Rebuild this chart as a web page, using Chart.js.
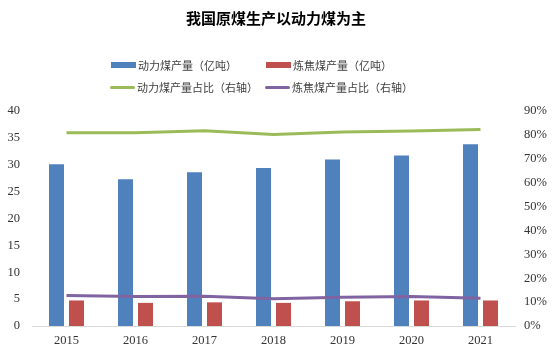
<!DOCTYPE html>
<html>
<head>
<meta charset="utf-8">
<script src="https://cdn.jsdelivr.net/npm/chart.js@4/dist/chart.umd.min.js"></script>
<style>
  html, body { margin:0; padding:0; background:#fff; }
  #wrap { position:relative; width:552px; height:352px; overflow:hidden; }
  #c { position:absolute; left:0; top:0; }
  .title { position:absolute; left:0; width:552px; top:8px; text-align:center;
    font-family:"Noto Sans CJK SC", sans-serif; font-weight:700; font-size:15px; color:#000; line-height:20px; }
  .lg { position:absolute; font-family:"Noto Sans CJK SC", sans-serif; font-size:11px; color:#404040;
    line-height:14px; white-space:nowrap; display:flex; align-items:center; }
  .lg i { display:inline-block; width:25px; margin-right:2px; }
</style>
</head>
<body>
<div id="wrap">
  <canvas id="c" width="552" height="352"></canvas>
  <div class="title">我国原煤生产以动力煤为主</div>
  <div id="legend"></div>
</div>
<script>
const years = ['2015','2016','2017','2018','2019','2020','2021'];
const thermalOutput = [30.1, 27.3, 28.6, 29.4, 31.0, 31.7, 33.8];   // 亿吨
const cokingOutput  = [4.75, 4.3, 4.4, 4.3, 4.6, 4.75, 4.75];       // 亿吨
const thermalShare  = [80.9, 80.9, 81.7, 80.2, 81.2, 81.6, 82.3];   // %
const cokingShare   = [12.8, 12.4, 12.5, 11.4, 12.0, 12.4, 11.6];   // %
const names = ['动力煤产量（亿吨）','炼焦煤产量（亿吨）','动力煤产量占比（右轴）','炼焦煤产量占比（右轴）'];
const colors = ['#4f81bd','#c0504d','#9bbb59','#8064a2'];

// legend, two rows like the original
const lgPos = [[111,58,'box'],[266,58,'box'],[110,80,'line'],[265,80,'line']];
document.getElementById('legend').innerHTML = names.map((n,i)=>{
  const [x,y,kind] = lgPos[i];
  const sw = kind==='box' ? `height:6px;background:${colors[i]}` : `height:3px;background:${colors[i]};border-radius:2px`;
  return `<div class="lg" style="left:${x}px;top:${y}px"><i style="${sw}"></i>${n}</div>`;
}).join('');

const tickFont = { family:'"Liberation Serif", serif', size:12.5 };
const tickColor = '#333';

new Chart(document.getElementById('c'), {
  data: {
    labels: years,
    datasets: [
      { type:'bar', label:names[0], data:thermalOutput, backgroundColor:colors[0], yAxisID:'y', order:2,
        categoryPercentage:0.58, barPercentage:0.75 },
      { type:'bar', label:names[1], data:cokingOutput, backgroundColor:colors[1], yAxisID:'y', order:2,
        categoryPercentage:0.58, barPercentage:0.75 },
      { type:'line', label:names[2], data:thermalShare, borderColor:colors[2], borderWidth:3, pointRadius:0,
        yAxisID:'y1', order:1, tension:0 },
      { type:'line', label:names[3], data:cokingShare, borderColor:colors[3], borderWidth:3, pointRadius:0,
        yAxisID:'y1', order:1, tension:0 }
    ]
  },
  options: {
    responsive:false, animation:false,
    layout:{ padding:{ top:111, left:0, right:0, bottom:0 } },
    plugins:{ legend:{ display:false }, tooltip:{ enabled:false } },
    scales:{
      x:{ grid:{ display:false, drawTicks:false }, border:{ color:'#d9d9d9', width:1 },
          ticks:{ font:tickFont, color:tickColor, padding:7 },
          afterFit: s => { s.height = 26; } },
      y:{ position:'left', min:0, max:40, grid:{ display:false, drawTicks:false }, border:{ display:false },
          ticks:{ stepSize:5, font:tickFont, color:tickColor, padding:12 },
          afterFit: s => { s.width = 32; } },
      y1:{ position:'right', min:0, max:90, grid:{ display:false, drawTicks:false }, border:{ display:false },
          ticks:{ stepSize:10, font:tickFont, color:tickColor, padding:9, callback: v => v + '%' },
          afterFit: s => { s.width = 37; } }
    }
  }
});
</script>
</body>
</html>
